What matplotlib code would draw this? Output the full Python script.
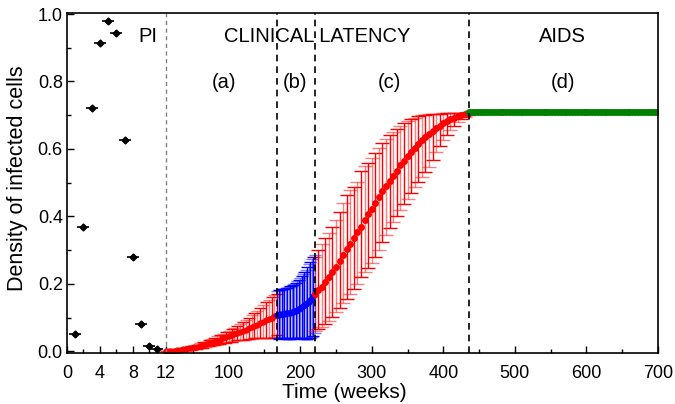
import numpy as np
import matplotlib
matplotlib.use('Agg')
from matplotlib import pyplot as plt

plt.rcParams['font.family'] = ['Liberation Sans', 'DejaVu Sans']

# primary infection, weeks 1..11
pi_t = [1, 2, 3, 4, 5, 6, 7, 8, 9, 10, 11]
pi_y = [0.050, 0.370, 0.720, 0.915, 0.980, 0.945, 0.627, 0.280, 0.080, 0.016, 0.006]

# clinical latency (a), every 4 weeks
a_t = np.arange(12, 169, 4)
a_y = [0.000, 0.000, 0.001, 0.002, 0.003, 0.004, 0.006, 0.007, 0.009, 0.010,
       0.012, 0.014, 0.017, 0.019, 0.021, 0.024, 0.026, 0.029, 0.032, 0.035,
       0.038, 0.041, 0.044, 0.047, 0.050, 0.054, 0.057, 0.061, 0.064, 0.068,
       0.072, 0.076, 0.079, 0.083, 0.088, 0.092, 0.096, 0.100, 0.105, 0.109]
a_err = [0.000, 0.000, 0.001, 0.001, 0.002, 0.002, 0.003, 0.003, 0.004, 0.005,
         0.005, 0.006, 0.007, 0.008, 0.008, 0.009, 0.010, 0.011, 0.012, 0.013,
         0.014, 0.015, 0.016, 0.018, 0.019, 0.021, 0.023, 0.026, 0.029, 0.032,
         0.035, 0.038, 0.041, 0.045, 0.049, 0.053, 0.057, 0.061, 0.062, 0.060]

# (b), every 2 weeks
b_t = np.arange(168, 221, 2)
b_y = [0.109, 0.109, 0.110, 0.111, 0.111, 0.112, 0.113, 0.113, 0.114, 0.115,
       0.116, 0.118, 0.119, 0.121, 0.123, 0.125, 0.127, 0.130, 0.133, 0.136,
       0.139, 0.143, 0.147, 0.152, 0.157, 0.163, 0.169]
b_err = [0.071, 0.072, 0.072, 0.073, 0.073, 0.074, 0.075, 0.076, 0.077, 0.078,
         0.079, 0.080, 0.082, 0.083, 0.085, 0.087, 0.089, 0.092, 0.095, 0.099,
         0.103, 0.107, 0.111, 0.114, 0.116, 0.117, 0.116]

# (c), every 5 weeks
c_t = np.arange(220, 436, 5)
c_y = [0.170, 0.181, 0.192, 0.205, 0.219, 0.234, 0.251, 0.268, 0.285, 0.302,
       0.319, 0.336, 0.353, 0.370, 0.388, 0.406, 0.423, 0.440, 0.457, 0.474,
       0.490, 0.506, 0.521, 0.536, 0.551, 0.565, 0.579, 0.592, 0.604, 0.615,
       0.626, 0.636, 0.645, 0.654, 0.662, 0.669, 0.676, 0.682, 0.688, 0.693,
       0.697, 0.700, 0.703, 0.705]
c_lo = [0.110, 0.115, 0.120, 0.124, 0.128, 0.132, 0.135, 0.139, 0.143, 0.146,
        0.148, 0.150, 0.152, 0.150, 0.152, 0.158, 0.162, 0.160, 0.158, 0.150,
        0.144, 0.140, 0.138, 0.135, 0.132, 0.129, 0.126, 0.122, 0.118, 0.114,
        0.110, 0.105, 0.100, 0.087, 0.072, 0.060, 0.050, 0.040, 0.032, 0.025,
        0.018, 0.012, 0.007, 0.003]
c_hi = [0.110, 0.118, 0.126, 0.130, 0.133, 0.136, 0.139, 0.145, 0.155, 0.160,
        0.160, 0.152, 0.150, 0.165, 0.160, 0.152, 0.149, 0.148, 0.147, 0.143,
        0.140, 0.135, 0.130, 0.124, 0.117, 0.111, 0.104, 0.096, 0.089, 0.082,
        0.074, 0.066, 0.058, 0.050, 0.043, 0.036, 0.030, 0.025, 0.020, 0.015,
        0.011, 0.008, 0.005, 0.003]

# AIDS (d), flat
d_t = np.arange(436, 701, 4)
d_y = [0.71] * len(d_t)
d_err = 0.004

boundaries = [168, 221, 436]

# x axis: weeks 0-12 stretched, then linear
K1 = 98.5 / 12
K2 = 0.7144
def fwd(t):
    t = np.asarray(t, float)
    return np.where(t <= 12, t * K1, 12 * K1 + (t - 12) * K2)
def inv(u):
    u = np.asarray(u, float)
    return np.where(u <= 12 * K1, u / K1, 12 + (u - 12 * K1) / K2)

fig = plt.figure(figsize=(6.75, 4.04), dpi=100)
ax = fig.add_axes([67/675, 51/404, 591/675, 340/404])
ax.set_xscale('function', functions=(fwd, inv))

def bars(t, y, err, color, capsize, ms):
    t = np.asarray(t); y = np.asarray(y); err = np.asarray(err)
    if err.ndim == 2:
        e0, e1 = err[:, ::2], err[:, 1::2]
    else:
        e0, e1 = err[::2], err[1::2]
    ax.errorbar(t[::2], y[::2], yerr=e0, fmt='none', ecolor=color, alpha=0.5,
                elinewidth=1, capsize=capsize, capthick=1)
    ax.errorbar(t[1::2], y[1::2], yerr=e1, fmt='none', ecolor=color,
                elinewidth=1, capsize=capsize, capthick=1)
    ax.plot(t, y, 'o', color=color, ms=ms, mec='none')

bars(a_t, a_y, a_err, 'red', 4, 4.5)
bars(b_t, b_y, b_err, 'blue', 4, 4.5)
bars(c_t, c_y, np.array([c_lo, c_hi]), 'red', 5, 5)
bars(d_t, d_y, np.full(len(d_t), d_err), 'green', 3, 5)

ax.plot(pi_t, pi_y, '_', color='black', ms=9, mew=1.2)
ax.plot(pi_t, pi_y, 'D', color='black', ms=3.5)

ax.axvline(12, color='gray', ls=(0, (3, 2.5)), lw=1)
for b in boundaries:
    ax.axvline(b, color='black', ls=(0, (4, 3)), lw=1.2)

fs = 14.5
ax.text(9.8, 0.932, 'PI', ha='center', va='center', fontsize=fs)
ax.text(224, 0.932, 'CLINICAL LATENCY', ha='center', va='center', fontsize=fs)
ax.text(567, 0.932, 'AIDS', ha='center', va='center', fontsize=fs)
for lab, xp in [('(a)', 94), ('(b)', 193), ('(c)', 325), ('(d)', 567)]:
    ax.text(xp, 0.796, lab, ha='center', va='center', fontsize=fs)

ax.set_xlim(0, 700)
ax.set_ylim(-0.005, 1.003)
ax.set_xticks([0, 4, 8, 12, 100, 200, 300, 400, 500, 600, 700])
ax.set_xticklabels(['0', '4', '8', '12', '100', '200', '300', '400', '500', '600', '700'])
ax.set_xticks([2, 6, 10, 50, 150, 250, 350, 450, 550, 650], minor=True)
ax.set_yticks([0.0, 0.2, 0.4, 0.6, 0.8, 1.0])
ax.set_yticklabels(['0.0', '0.2', '0.4', '0.6', '0.8', '1.0'])
ax.set_yticks([0.1, 0.3, 0.5, 0.7, 0.9], minor=True)
ax.tick_params(which='both', direction='in', labelsize=13, width=1)
ax.tick_params(which='major', length=5)
ax.tick_params(which='minor', length=3)
ax.tick_params(axis='x', which='both', pad=9)
ax.tick_params(axis='y', which='both', pad=3)
for s in ax.spines.values():
    s.set_linewidth(1.2)
ax.set_xlabel('Time (weeks)', fontsize=15)
ax.set_ylabel('Density of infected cells', fontsize=15.5)
ax.xaxis.set_label_coords(0.4695, -0.088)
ax.yaxis.set_label_coords(-0.066, 0.513)

fig.savefig('out.png', dpi=100)
